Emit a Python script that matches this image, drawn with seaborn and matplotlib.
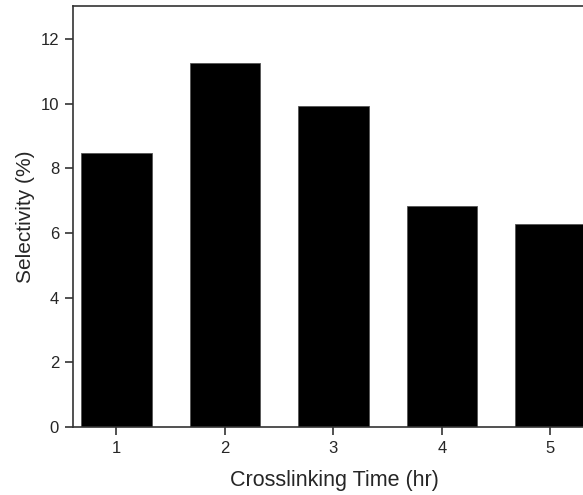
import numpy as np
import pandas as pd
import matplotlib
matplotlib.use('Agg')
import matplotlib.pyplot as plt
import seaborn as sns

# data
times = [1, 2, 3, 4, 5]
selectivity = [8.47, 11.25, 9.94, 6.82, 6.29]
y_ticks = [0, 2, 4, 6, 8, 10, 12]

df = pd.DataFrame({'time': times, 'sel': selectivity})

sns.set_style('ticks')
plt.rcParams['font.family'] = ['Liberation Sans', 'DejaVu Sans']

fig = plt.figure(figsize=(5.83, 4.95), dpi=100)
# axes runs past the right edge, like the cropped original
ax = fig.add_axes([73 / 583, 68 / 495, 523 / 583, 421 / 495])

sns.barplot(data=df, x='time', y='sel', native_scale=True, width=0.65,
            color='black', edgecolor='#555555', linewidth=0.6,
            saturation=1, ax=ax)

ax.set_xlim(0.6, 5.42)
ax.set_ylim(0, 13.02)
ax.set_xticks(times)
ax.set_yticks(y_ticks)
ax.tick_params(axis='both', direction='out', length=6, width=1.2,
               labelsize=12, color='#333333', pad=4)
ax.set_xlabel('Crosslinking Time (hr)', fontsize=15.5, labelpad=10)
ax.set_ylabel('Selectivity (%)', fontsize=15, labelpad=4)

for side in ['left', 'bottom', 'top', 'right']:
    ax.spines[side].set_linewidth(1.2)
    ax.spines[side].set_color('#333333')

fig.savefig('out.png', dpi=100)
